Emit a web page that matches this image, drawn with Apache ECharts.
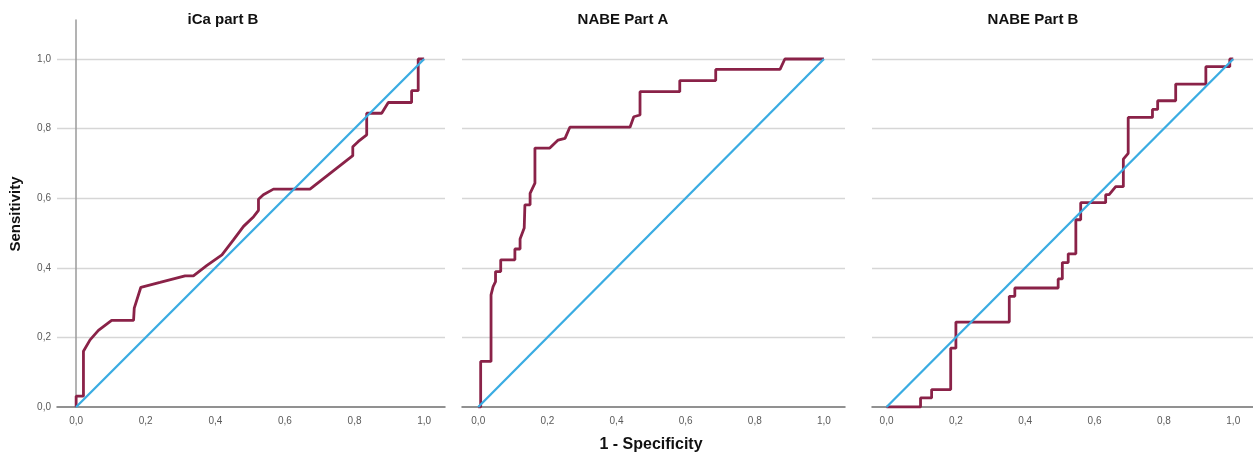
<!DOCTYPE html>
<html><head><meta charset="utf-8">
<script src="https://cdn.jsdelivr.net/npm/echarts@6/dist/echarts.min.js"></script>
<style>html,body{margin:0;padding:0;background:#fff}#c{width:1253px;height:456px}</style>
</head><body><div id="c"></div>
<script>
const panelTitles = ['iCa part B', 'NABE Part A', 'NABE Part B'];
const xAxisTitle = '1 - Specificity';
const yAxisTitle = 'Sensitivity';
const tickValues = [0, 0.2, 0.4, 0.6, 0.8, 1.0];

// iCa part B
const icaB_fpr = [0, 0, 0.021, 0.021, 0.04, 0.064, 0.102, 0.165, 0.167, 0.186, 0.241, 0.313, 0.337, 0.375, 0.419, 0.452, 0.481, 0.51, 0.524, 0.524, 0.538, 0.567, 0.672, 0.795, 0.795, 0.811, 0.835, 0.835, 0.878, 0.897, 0.964, 0.964, 0.983, 0.983, 1];
const icaB_tpr = [0, 0.031, 0.031, 0.16, 0.193, 0.22, 0.249, 0.249, 0.284, 0.344, 0.358, 0.377, 0.377, 0.406, 0.437, 0.48, 0.519, 0.547, 0.565, 0.597, 0.61, 0.626, 0.626, 0.722, 0.748, 0.763, 0.782, 0.844, 0.844, 0.875, 0.875, 0.909, 0.909, 1.0, 1.0];

// NABE Part A
const nabeA_fpr = [0, 0.007, 0.007, 0.037, 0.037, 0.043, 0.05, 0.05, 0.065, 0.065, 0.106, 0.106, 0.121, 0.121, 0.133, 0.135, 0.15, 0.15, 0.164, 0.164, 0.207, 0.231, 0.251, 0.265, 0.439, 0.45, 0.468, 0.468, 0.583, 0.583, 0.687, 0.687, 0.873, 0.887, 1];
const nabeA_tpr = [0, 0, 0.131, 0.131, 0.322, 0.346, 0.36, 0.389, 0.389, 0.423, 0.423, 0.454, 0.454, 0.483, 0.514, 0.581, 0.581, 0.614, 0.643, 0.744, 0.744, 0.767, 0.772, 0.804, 0.804, 0.834, 0.839, 0.906, 0.906, 0.938, 0.938, 0.970, 0.970, 1.0, 1.0];

// NABE Part B
const nabeB_fpr = [0, 0.098, 0.098, 0.130, 0.130, 0.185, 0.185, 0.2, 0.2, 0.354, 0.354, 0.370, 0.370, 0.495, 0.495, 0.507, 0.507, 0.524, 0.524, 0.546, 0.546, 0.56, 0.56, 0.632, 0.632, 0.642, 0.661, 0.683, 0.683, 0.697, 0.697, 0.767, 0.767, 0.782, 0.782, 0.834, 0.834, 0.921, 0.921, 0.990, 0.990, 1];
const nabeB_tpr = [0, 0, 0.026, 0.026, 0.05, 0.05, 0.169, 0.169, 0.244, 0.244, 0.318, 0.318, 0.342, 0.342, 0.368, 0.368, 0.415, 0.415, 0.44, 0.44, 0.538, 0.538, 0.587, 0.587, 0.61, 0.61, 0.633, 0.633, 0.712, 0.729, 0.832, 0.832, 0.855, 0.855, 0.880, 0.880, 0.928, 0.928, 0.978, 0.978, 1.0, 1.0];

const reference_x = [0, 1];
const reference_y = [0, 1];

const curves = [[icaB_fpr, icaB_tpr], [nabeA_fpr, nabeA_tpr], [nabeB_fpr, nabeB_tpr]];

const grids = [
  {left: 57, top: 20, width: 388, height: 387, xmin: -0.055, xmax: 1.06},
  {left: 462, top: 20, width: 383, height: 387, xmin: -0.047, xmax: 1.061},
  {left: 872, top: 20, width: 381, height: 387, xmin: -0.042, xmax: 1.057}
];
const titleCenters = [223, 623, 1033];

const zip = (a, b) => a.map((v, i) => [v, b[i]]);
const fmt = v => v.toFixed(1).replace('.', ',');

const option = {
  animation: false,
  backgroundColor: '#fff',
  grid: grids.map(g => ({left: g.left, top: g.top, width: g.width, height: g.height, containLabel: false})),
  xAxis: grids.map((g, i) => ({
    type: 'value', gridIndex: i, min: g.xmin, max: g.xmax,
    axisLine: {show: true, onZero: false, lineStyle: {color: '#6e6e6e', width: 1.5}},
    axisTick: {show: false},
    splitLine: {show: false},
    axisLabel: {customValues: tickValues, formatter: fmt, color: '#5a5a5a', fontSize: 10, margin: 9, fontFamily: 'Liberation Sans'}
  })),
  yAxis: grids.map((g, i) => ({
    type: 'value', gridIndex: i, min: 0, max: 1.112, interval: 0.2,
    axisLine: {show: i === 0, lineStyle: {color: '#9a9a9a', width: 1.5}},
    axisTick: {show: false},
    splitLine: {show: true, showMinLine: false, showMaxLine: false, lineStyle: {color: '#d6d6d6', width: 1.3}},
    axisLabel: {show: i === 0, showMaxLabel: false, formatter: v => (v > 1.05 ? '' : fmt(v)), color: '#5a5a5a', fontSize: 10, margin: 6, fontFamily: 'Liberation Sans'}
  })),
  series: [].concat(
    curves.map((c, i) => ({
      type: 'line', xAxisIndex: i, yAxisIndex: i, data: zip(c[0], c[1]),
      symbol: 'none', smooth: false, z: 3,
      lineStyle: {color: '#8a2248', width: 2.8}
    })),
    grids.map((g, i) => ({
      type: 'line', xAxisIndex: i, yAxisIndex: i, data: zip(reference_x, reference_y),
      symbol: 'none', z: 4,
      lineStyle: {color: '#3aace2', width: 2.3}
    }))
  ),
  graphic: [].concat(
    panelTitles.map((t, i) => ({
      type: 'text', x: titleCenters[i], y: 20,
      style: {text: t, font: 'bold 15px "Liberation Sans", Arial', fill: '#111', textAlign: 'center', textVerticalAlign: 'middle'}
    })),
    [{
      type: 'text', x: 16, y: 214, rotation: Math.PI / 2,
      style: {text: yAxisTitle, font: 'bold 15px "Liberation Sans", Arial', fill: '#111', textAlign: 'center', textVerticalAlign: 'middle'}
    }, {
      type: 'text', x: 651, y: 445,
      style: {text: xAxisTitle, font: 'bold 16px "Liberation Sans", Arial', fill: '#111', textAlign: 'center', textVerticalAlign: 'middle'}
    }]
  )
};
const chart = echarts.init(document.getElementById('c'), null, {renderer: 'canvas'});
chart.setOption(option);
</script>
</body></html>
